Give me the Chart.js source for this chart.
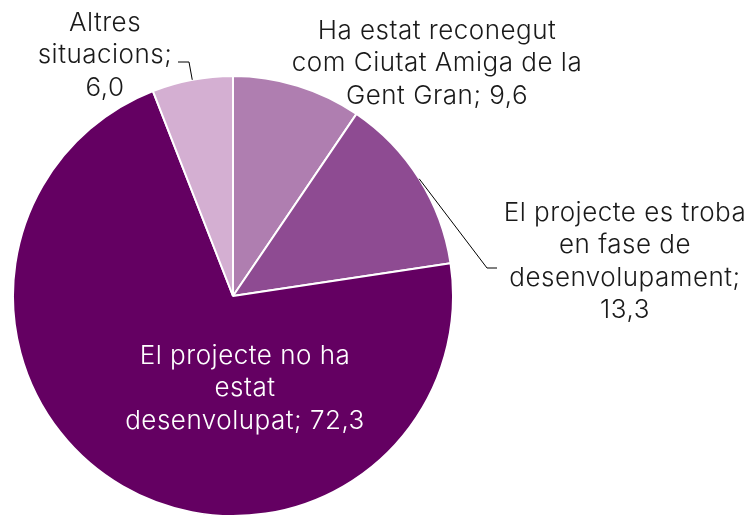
<!DOCTYPE html>
<html>
<head>
<meta charset="utf-8">
<script src="https://cdn.jsdelivr.net/npm/chart.js@4/dist/chart.umd.min.js"></script>
<style>
html,body{margin:0;padding:0;background:#fff;}
#wrap{width:754px;height:517px;position:relative;}
</style>
</head>
<body>
<div id="wrap"><canvas id="c" width="754" height="517"></canvas></div>
<script>
const categories = [
  "Ha estat reconegut com Ciutat Amiga de la Gent Gran",
  "El projecte es troba en fase de desenvolupament",
  "El projecte no ha estat desenvolupat",
  "Altres situacions"
];
const values = [9.6, 13.3, 72.3, 6.0];
const colors = ["#AF7EB0", "#8E4B92", "#640062", "#D4AFD2"];
const labelLines = [
  ["Ha estat reconegut", "com Ciutat Amiga de la", "Gent Gran; 9,6"],
  ["El projecte es troba", "en fase de", "desenvolupament;", "13,3"],
  ["El projecte no ha", "estat", "desenvolupat; 72,3"],
  ["Altres", "situacions;", "6,0"]
];

const FONT = '300 26px Inter, Roboto, "Liberation Sans", sans-serif';
const labelLayout = [
  {x: 437, y: 31, color: "#1a1a1a"},
  {x: 625, y: 213, color: "#1a1a1a", leader: {textEdge: 497, lineY: 268, bendX: 487}},
  {x: 245, y: 356, color: "#ffffff"},
  {x: 105, y: 23, color: "#1a1a1a", leader: {textEdge: 178, lineY: 62, bendX: 189}}
];
const lineH = 32.5;

const labelPlugin = {
  id: 'pieLabels',
  afterDatasetsDraw(chart) {
    const ctx = chart.ctx;
    const meta = chart.getDatasetMeta(0);
    ctx.save();
    ctx.font = FONT;
    try { ctx.letterSpacing = '0.5px'; } catch (e) {}
    ctx.textAlign = 'center';
    ctx.textBaseline = 'middle';
    meta.data.forEach((arc, i) => {
      const L = labelLayout[i];
      if (L.leader) {
        const mid = (arc.startAngle + arc.endAngle) / 2;
        const px = arc.x + Math.cos(mid) * arc.outerRadius;
        const py = arc.y + Math.sin(mid) * arc.outerRadius;
        ctx.strokeStyle = '#000';
        ctx.lineWidth = 1;
        ctx.beginPath();
        ctx.moveTo(px, py);
        ctx.lineTo(L.leader.bendX, L.leader.lineY);
        ctx.lineTo(L.leader.textEdge, L.leader.lineY);
        ctx.stroke();
      }
      ctx.fillStyle = L.color;
      labelLines[i].forEach((t, k) => {
        ctx.fillText(t, L.x, L.y + k * lineH);
      });
    });
    ctx.restore();
  }
};

new Chart(document.getElementById('c'), {
  type: 'pie',
  data: {
    labels: categories,
    datasets: [{
      data: values,
      backgroundColor: colors,
      borderColor: '#ffffff',
      borderWidth: 2
    }]
  },
  options: {
    responsive: false,
    animation: false,
    layout: {padding: {left: 12, right: 300, top: 75, bottom: 0}},
    plugins: {
      legend: {display: false},
      tooltip: {enabled: false}
    }
  },
  plugins: [labelPlugin]
});
</script>
</body>
</html>
